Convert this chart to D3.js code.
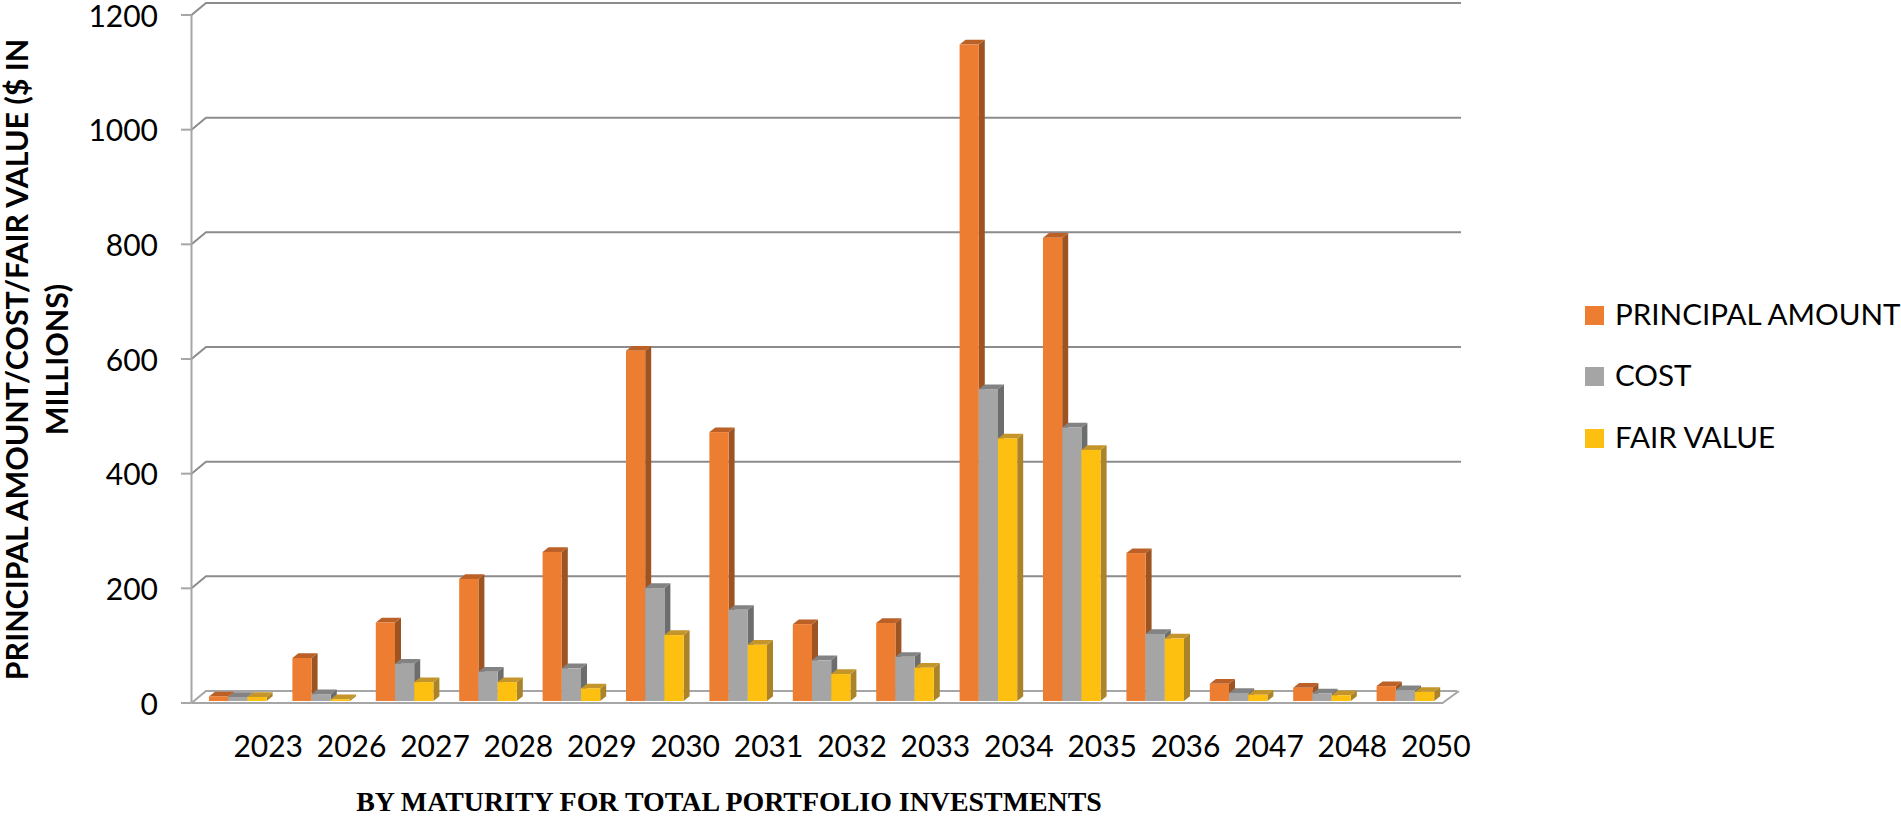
<!DOCTYPE html>
<html><head><meta charset="utf-8">
<script src="https://cdn.jsdelivr.net/npm/d3@7/dist/d3.min.js"></script>
<style>html,body{margin:0;padding:0;background:#fff;overflow:hidden}svg{display:block}</style>
</head><body><svg id="c" width="1901" height="820"></svg>
<script>
const categories=["2023","2026","2027","2028","2029","2030","2031","2032","2033","2034","2035","2036","2047","2048","2050"];
const principal=[8,75,137,213,260,611,469,134,136,1145,808,258,30,23,26];
const cost=[7,12,65,51,57,197,159,71,77,544,477,117,14,13,19];
const fairValue=[7,3,33,33,22,115,98,47,58,458,438,109,11,10,16];
const seriesNames=["PRINCIPAL AMOUNT","COST","FAIR VALUE"];
const yTicks=[0,200,400,600,800,1000,1200];
const colors=["#ed7d31","#a5a5a5","#fec010"];
const topColors=["#bb6127","#838383","#c4952a"];
const sideColors=["#9e5422","#6c6e6e","#ab842a"];
const yTitle=["PRINCIPAL AMOUNT/COST/FAIR VALUE ($ IN","MILLIONS)"];
const xTitle="BY MATURITY FOR TOTAL PORTFOLIO INVESTMENTS";

const svg=d3.select("#c");
const y=d3.scaleLinear().domain([0,1200]).range([703,15]);
const x=d3.scaleBand().domain(categories).range([191.5,1442.5]);
const wallDx=14.5,wallDy=-12;
const grid="#8c8c8c",axisC="#a6a6a6";
const sans="Lato";
const labelSize=30;

yTicks.forEach(t=>{
  const yy=y(t);
  svg.append("path").attr("fill","none").attr("stroke",t===0?axisC:grid).attr("stroke-width",2)
    .attr("d",`M${x.range()[0]},${yy}L${x.range()[0]+wallDx},${yy+wallDy}H${x.range()[1]+wallDx+(t===0?0:4)}`);
  svg.append("line").attr("x1",181).attr("x2",x.range()[0]).attr("y1",yy).attr("y2",yy).attr("stroke",axisC).attr("stroke-width",2);
  svg.append("text").attr("x",158).attr("y",yy+11.5).attr("text-anchor","end")
    .attr("font-family",sans).attr("font-size",labelSize).attr("fill","#000").text(t);
});
svg.append("line").attr("x1",x.range()[0]).attr("x2",x.range()[0]).attr("y1",y(1200)).attr("y2",y(0)).attr("stroke",axisC).attr("stroke-width",2);
svg.append("path").attr("fill","none").attr("stroke",axisC).attr("stroke-width",2)
  .attr("d",`M${x.range()[0]},${y(0)}H${x.range()[1]}L${x.range()[1]+wallDx+2},${y(0)+wallDy}`);

const barW=19.2,ddx=6,ddy=-4.7,inset=17.5,base=2;
[principal,cost,fairValue].forEach((vals,s)=>{
  const g=svg.append("g");
  categories.forEach((c,i)=>{
    const x0=x(c)+inset+s*barW, x1=x0+barW, yT=y(vals[i])-base, yB=y(0)-base;
    g.append("path").attr("fill",sideColors[s]).attr("d",`M${x1},${yT}L${x1+ddx},${yT+ddy}V${yB+ddy}L${x1},${yB}Z`);
    g.append("path").attr("fill",topColors[s]).attr("d",`M${x0},${yT}L${x0+ddx},${yT+ddy}H${x1+ddx}L${x1},${yT}Z`);
    g.append("rect").attr("x",x0).attr("y",yT).attr("width",barW).attr("height",yB-yT).attr("fill",colors[s]);
  });
});

categories.forEach(c=>{
  svg.append("text").attr("x",x(c)+x.bandwidth()/2+35).attr("y",757).attr("text-anchor","middle")
    .attr("font-family",sans).attr("font-size",labelSize).attr("fill","#000").text(c);
});
svg.append("text").attr("x",729).attr("y",811).attr("text-anchor","middle")
  .attr("font-family","Liberation Serif").attr("font-weight","bold").attr("font-size",27.9).attr("fill","#000").text(xTitle);
yTitle.forEach((t,i)=>{
  svg.append("text").attr("transform",`translate(${28+i*40},359.5) rotate(-90)`).attr("text-anchor","middle")
    .attr("font-family",sans).attr("font-weight","bold").attr("font-size",30.4).attr("fill","#000").text(t);
});
seriesNames.forEach((n,i)=>{
  const ly=[306,367,429][i];
  svg.append("rect").attr("x",1585).attr("y",ly).attr("width",19).attr("height",19).attr("fill",colors[i]);
  svg.append("text").attr("x",1615).attr("y",ly+19).attr("font-family",sans).attr("font-size",29.6).attr("fill","#000").text(n);
});
</script></body></html>
